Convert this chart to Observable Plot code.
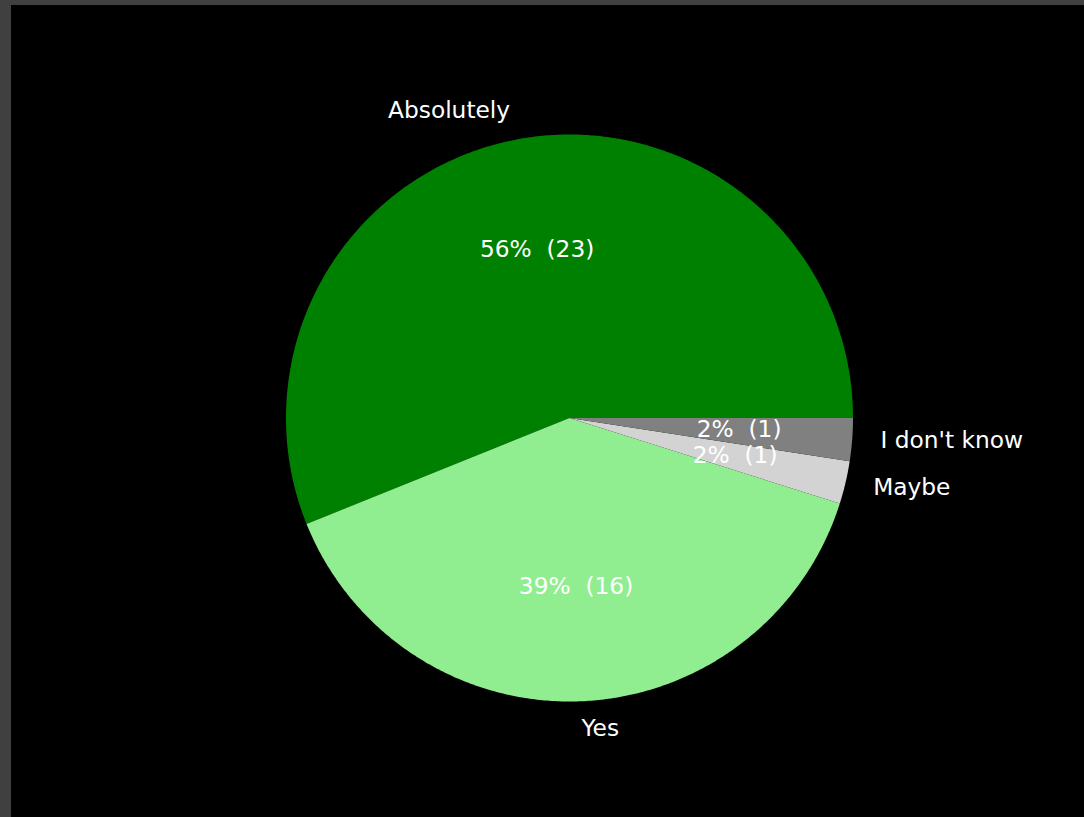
<!DOCTYPE html>
<html>
<head>
<meta charset="utf-8">
<script src="https://cdn.jsdelivr.net/npm/d3@7"></script>
<script src="https://cdn.jsdelivr.net/npm/@observablehq/plot@0.6"></script>
<style>
  html, body { margin: 0; padding: 0; background: #404040; width: 1084px; height: 817px; overflow: hidden; }
  #chart { position: absolute; left: 11px; top: 5px; width: 1073px; height: 812px; background: #000; }
  #chart svg text { white-space: pre; }
</style>
</head>
<body>
<div id="chart"></div>
<script>
const labels = ["Absolutely", "Yes", "Maybe", "I don't know"];
const counts = [23, 16, 1, 1];
const colors = ["green", "lightgreen", "lightgray", "gray"];

const total = d3.sum(counts);
const slices = [];
let start = 0;
counts.forEach((c, i) => {
  const sweep = (c / total) * 2 * Math.PI;
  slices.push({label: labels[i], count: c, color: colors[i], a0: start, a1: start + sweep, pct: c / total * 100});
  start += sweep;
});

// polygon points for each wedge (center + arc), derived from the slice angles
const wedge = [];
slices.forEach(s => {
  wedge.push({key: s.label, color: s.color, x: 0, y: 0});
  const n = Math.max(2, Math.ceil((s.a1 - s.a0) / (Math.PI / 360)));
  for (let k = 0; k <= n; k++) {
    const a = s.a0 + (s.a1 - s.a0) * k / n;
    wedge.push({key: s.label, color: s.color, x: Math.cos(a), y: Math.sin(a)});
  }
});

const outer = slices.map(s => {
  const m = (s.a0 + s.a1) / 2;
  return {text: s.label, x: 1.1 * Math.cos(m), y: 1.1 * Math.sin(m)};
});
const inner = slices.map(s => {
  const m = (s.a0 + s.a1) / 2;
  return {text: `${Math.round(s.pct)}%  (${s.count})`, x: 0.6 * Math.cos(m), y: 0.6 * Math.sin(m)};
});

const cx = 558, cy = 412.5, r = 283.5;
const font = "DejaVu Sans";
const fs = 23.3;
const plot = Plot.plot({
  width: 1073,
  height: 812,
  margin: 0,
  style: {background: "transparent", color: "white"},
  x: {domain: [-1, 1], range: [cx - r, cx + r], axis: null},
  y: {domain: [-1, 1], range: [cy + r, cy - r], axis: null},
  color: {type: "identity"},
  marks: [
    Plot.line(wedge, {x: "x", y: "y", z: "key", fill: "color", stroke: "none", curve: "linear-closed"}),
    Plot.text(outer.filter(d => d.x >= 0), {x: "x", y: "y", text: "text", textAnchor: "start", dy: -1.5, fill: "white", fontSize: fs, fontFamily: font}),
    Plot.text(outer.filter(d => d.x < 0), {x: "x", y: "y", text: "text", textAnchor: "end", dy: -1.5, fill: "white", fontSize: fs, fontFamily: font}),
    Plot.text(inner, {x: "x", y: "y", text: "text", textAnchor: "middle", dy: -1.5, fill: "white", fontSize: fs, fontFamily: font})
  ]
});
document.getElementById("chart").appendChild(plot);
</script>
</body>
</html>
